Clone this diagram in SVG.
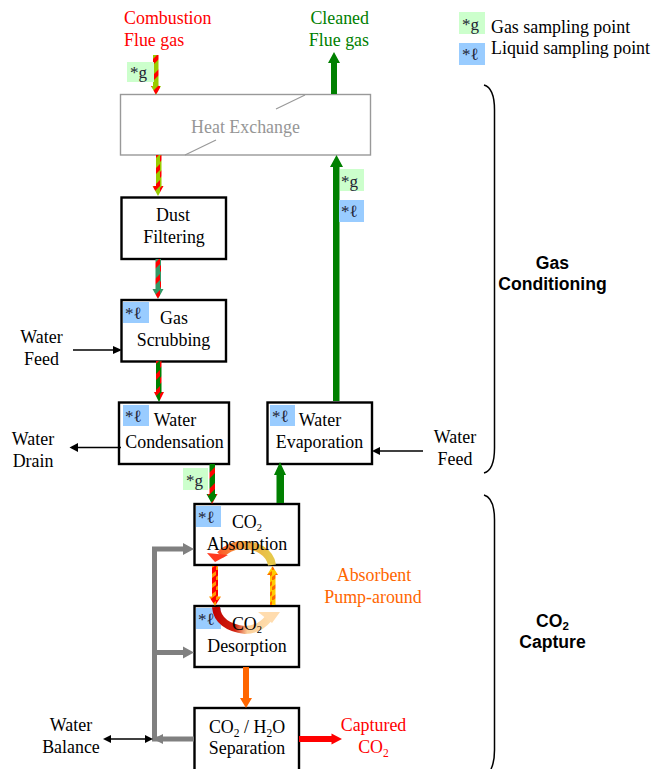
<svg xmlns="http://www.w3.org/2000/svg" width="652" height="769" viewBox="0 0 652 769">
<style>
text{font-family:"Liberation Serif","Times New Roman",serif;font-size:17.9px;fill:#000}
.c{text-anchor:middle}
.box{fill:#fff;stroke:#000;stroke-width:2.4}
.b{font-family:"Liberation Sans",Arial,sans-serif;font-weight:bold;font-size:17.6px}
.r{fill:#f00}.gn{fill:#008000}.o{fill:#f60}
.tag{font-size:17px;fill:#223}
.thin{fill:none;stroke:#000;stroke-width:1.4}
.gr{fill:none;stroke:#808080;stroke-width:5}
.brace{fill:none;stroke:#000;stroke-width:1.5}
</style>
<defs>
<pattern id="s1" width="8" height="16" patternUnits="userSpaceOnUse" patternTransform="translate(0,2)"><rect width="8" height="16" fill="#99cc00"/><path d="M0 10L8 2V8L0 16Z" fill="#f00"/></pattern>
<pattern id="s2" width="8" height="16" patternUnits="userSpaceOnUse"><rect width="8" height="16" fill="#339966"/><path d="M0 10L8 2V8L0 16Z" fill="#f00"/></pattern>
<pattern id="s3" width="8" height="16" patternUnits="userSpaceOnUse"><rect width="8" height="16" fill="#008000"/><path d="M0 10L8 2V8L0 16Z" fill="#f00"/></pattern>
<pattern id="s4" width="8" height="10" patternUnits="userSpaceOnUse"><rect width="8" height="10" fill="#f00"/><path d="M0 7L8 1V5L0 11Z" fill="#f90"/></pattern>
<pattern id="s5" width="8" height="10" patternUnits="userSpaceOnUse"><rect width="8" height="10" fill="#ffcc00"/><path d="M0 7L8 1V5L0 11Z" fill="#f60"/></pattern>
<linearGradient id="ga" gradientUnits="userSpaceOnUse" x1="270" y1="560" x2="210" y2="555"><stop offset="0" stop-color="#e6c84a"/><stop offset=".5" stop-color="#f5a040"/><stop offset="1" stop-color="#ff3a20"/></linearGradient>
<linearGradient id="gd" gradientUnits="userSpaceOnUse" x1="212" y1="610" x2="275" y2="620"><stop offset="0" stop-color="#c00000"/><stop offset=".4" stop-color="#d02010"/><stop offset=".6" stop-color="#fbcf9a"/><stop offset="1" stop-color="#ffe0b0"/></linearGradient>
</defs>

<g id="node-heat"><rect x="120.500" y="94.500" width="250" height="60.500" fill="#fff" stroke="#999" stroke-width="1.4"/><path d="M305 95L276 109M216 140L185 155" stroke="#999" stroke-width="1.2" fill="none"/><text class="c" x="245.500" y="133" style="fill:#969696">Heat Exchange</text></g>
<g id="node-dust"><rect class="box" x="121.500" y="197.500" width="104.500" height="61.500"/><text class="c" x="173" y="221">Dust</text><text class="c" x="174" y="243">Filtering</text></g>
<g id="node-scrub"><rect class="box" x="121.500" y="300" width="104.500" height="61.500"/><rect x="123" y="302" width="26" height="21" fill="#99ccff"/><text class="tag" x="125" y="319">*ℓ</text><text class="c" x="174" y="324">Gas</text><text class="c" x="173.500" y="346">Scrubbing</text></g>
<g id="node-cond"><rect class="box" x="119" y="402.500" width="110" height="61.500"/><rect x="123" y="405" width="26" height="21" fill="#99ccff"/><text class="tag" x="125" y="422">*ℓ</text><text class="c" x="175" y="426">Water</text><text class="c" x="174.500" y="448">Condensation</text></g>
<g id="node-evap"><rect class="box" x="267.500" y="402.500" width="104.500" height="61.500"/><rect x="270" y="405" width="25" height="21" fill="#99ccff"/><text class="tag" x="272" y="422">*ℓ</text><text class="c" x="320" y="426">Water</text><text class="c" x="319.500" y="448">Evaporation</text></g>
<g id="node-abs"><rect class="box" x="194.500" y="504" width="104.500" height="61"/><rect x="196" y="506" width="25" height="21" fill="#99ccff"/><text class="tag" x="198" y="523">*ℓ</text></g>
<g id="node-des"><rect class="box" x="194.500" y="606" width="104.500" height="61"/><rect x="196" y="608" width="25" height="21" fill="#99ccff"/><text class="tag" x="198" y="625">*ℓ</text></g>
<g id="node-sep"><rect class="box" x="194.500" y="708" width="104.500" height="64"/><text class="c" x="247" y="733">CO<tspan dy="4" font-size="11.500">2</tspan><tspan dy="-4"> / H</tspan><tspan dy="4" font-size="11.500">2</tspan><tspan dy="-4">O</tspan></text><text class="c" x="247" y="754">Separation</text></g>

<g id="connectors">
<path d="M153 55H158.500V86H161L156 95L151 86H153Z" fill="url(#s1)"/>
<path d="M156 155H161.500V186H163.500L158 196L152.500 186H156Z" fill="url(#s1)"/>
<path d="M155.500 259H161V289H163.500L158 299L152.500 289H155.500Z" fill="url(#s2)"/>
<path d="M156 361H161.500V392H164L159 402L154 392H156Z" fill="url(#s3)"/>
<path d="M209.500 464H215V494H217.500L212 504L206.500 494H209.500Z" fill="url(#s3)"/>
<path d="M331 94V63H328L334 52L340 63H337V94Z" fill="#008000"/>
<path d="M333 401V167H330L336.500 155L343 167H339.500V401Z" fill="#008000"/>
<path d="M276.500 503V475H274L280 462L286 475H284V503Z" fill="#008000"/>
<path d="M212 566H218V596.500H221L215 606L209 596.500H212Z" fill="url(#s4)"/>
<path d="M270 605V575H267L272.500 566L278 575H275.500V605Z" fill="url(#s5)"/>
<path d="M243 667H249V698H252L246 708L240 698H243Z" fill="#f60"/>
<path d="M299 736V742H331.500V744.500L342 739L331.500 733.500V736Z" fill="#f00"/>
<path d="M272 565C270 552 256 544 240 545C231 546 225 550 220 555" fill="none" stroke="url(#ga)" stroke-width="8"/>
<path d="M207 553L228 555L215 562Z" fill="#ff3a20"/>
<path d="M216 607C217 620 228 628 245 630C255 630 262 626 268 619" fill="none" stroke="url(#gd)" stroke-width="8"/>
<path d="M258 612H280L272 623Z" fill="#ffdcae"/>
<path class="gr" d="M194 739H154.500V549H184"/>
<path class="gr" d="M154.500 652.500H184"/>
<path d="M183 543L194 549L183 555Z M183 646.500L194 652.500L183 658.500Z M163 734L153 739L163 744Z" fill="#808080"/>
<path class="thin" d="M73 350H116"/><path d="M113 346L122 350L113 354Z"/>
<path class="thin" d="M76 447.500H121"/><path d="M69.500 447.500L78 443V452Z"/>
<path class="thin" d="M378 451H423"/><path d="M372 451L380 447V455Z"/>
<path class="thin" d="M108 739H146"/><path d="M103 739L111 735V743Z M153 739L145 735V743Z"/>
</g>

<g id="tags">
<rect x="127" y="62" width="27" height="20" fill="#ccffcc"/><text class="tag" x="130" y="78">*g</text>
<rect x="340" y="169" width="24" height="22" fill="#ccffcc"/><text class="tag" x="341" y="187">*g</text>
<rect x="339" y="200" width="25" height="22" fill="#99ccff"/><text class="tag" x="341" y="217">*ℓ</text>
<rect x="183" y="468" width="25" height="22" fill="#ccffcc"/><text class="tag" x="186" y="486">*g</text>
<rect x="459" y="12" width="26" height="22" fill="#ccffcc"/><text class="tag" x="462" y="30">*g</text>
<rect x="459" y="43" width="26" height="22" fill="#99ccff"/><text class="tag" x="462" y="60">*ℓ</text>
</g>

<g id="labels">
<text class="r" x="124" y="24">Combustion</text><text class="r" x="124" y="46">Flue gas</text>
<text class="gn" x="369" y="24" text-anchor="end">Cleaned</text><text class="gn" x="369" y="46" text-anchor="end">Flue gas</text>
<text x="491" y="33">Gas sampling point</text><text x="491" y="54">Liquid sampling point</text>
<text class="c" x="41.500" y="343">Water</text><text class="c" x="41.500" y="365">Feed</text>
<text class="c" x="33" y="445">Water</text><text class="c" x="33" y="467">Drain</text>
<text class="c" x="455" y="443">Water</text><text class="c" x="455" y="465">Feed</text>
<text class="c" x="71" y="731">Water</text><text class="c" x="71" y="753">Balance</text>
<text class="c o" x="374" y="581">Absorbent</text><text class="c o" x="373" y="603">Pump-around</text>
<text class="c r" x="373.500" y="731">Captured</text><text class="c r" x="373.500" y="753">CO<tspan dy="4" font-size="11.500">2</tspan></text>
<text class="c" x="247" y="528">CO<tspan dy="3" font-size="10.500">2</tspan></text><text class="c" x="247" y="549.500">Absorption</text>
<text class="c" x="247" y="630">CO<tspan dy="3" font-size="10.500">2</tspan></text><text class="c" x="247" y="651.500">Desorption</text>
<text class="c b" x="552.500" y="269">Gas</text><text class="c b" x="552.500" y="290">Conditioning</text>
<text class="c b" x="552.500" y="627">CO<tspan dy="3" font-size="11.500">2</tspan></text><text class="c b" x="552.500" y="648">Capture</text>
</g>
<g id="braces">
<path class="brace" d="M484 85C491 87 494.500 95 494.500 110V448C494.500 462 491 471 484 473"/>
<path class="brace" d="M484 495C491 497 494.500 505 494.500 520V750C494.500 758 493 765 491 769"/>
</g>
</svg>
